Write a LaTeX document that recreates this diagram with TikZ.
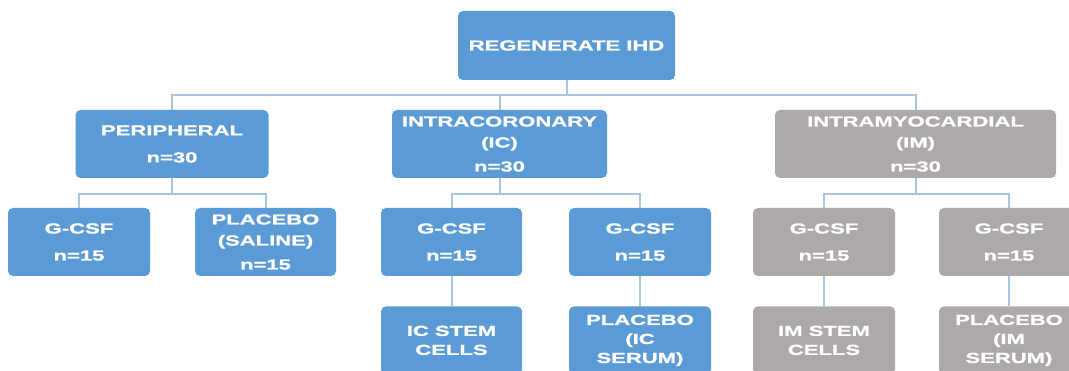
\documentclass[tikz,border=0pt]{standalone}
\usepackage{fontspec}
\newfontfamily\boxfont{Liberation Sans}[FakeStretch=1.52, FakeBold=1.2]
\usetikzlibrary{positioning}
\definecolor{ihdblue}{HTML}{5B9BD5}
\definecolor{ihdgray}{HTML}{ADA9A8}
\definecolor{ihdline}{HTML}{A9C5E2}

\begin{document}
\begin{tikzpicture}[
    x=1pt, y=-1pt,
    node distance=30pt,
    box/.style={rectangle, rounded corners=5pt, fill=#1, text=white, minimum height=68pt, inner sep=0pt, align=center, font=\boxfont\bfseries\fontsize{14.5}{21}\selectfont},
    box/.default=ihdblue,
    tight/.style={font=\boxfont\bfseries\fontsize{14.5}{19}\selectfont},
    link/.style={draw=ihdline, line width=2pt}
]
    \fill[white] (0,0) rectangle (1069,371);
    \clip (0,0) rectangle (1069,371);

    % Study and the three arms
    \node[box, minimum width=217pt, minimum height=69pt] (root) at (566.5,45.5) {REGENERATE IHD};
    \node[box, minimum width=193pt] (peri) at (172,144) {PERIPHERAL\\[6pt]n=30};
    \node[box, minimum width=215pt] (ic) at (499.5,144) {INTRACORONARY\\(IC)\\[3pt]n=30};
    \node[box=ihdgray, minimum width=281pt] (im) at (915.5,144) {INTRAMYOCARDIAL\\(IM)\\[3pt]n=30};

    % G-CSF / placebo groups
    \node[box, minimum width=142pt] (pg) at (79,242) {G-CSF\\[6pt]n=15};
    \node[box, minimum width=141pt] (pp) at (265.5,242) {PLACEBO\\(SALINE)\\[3pt]n=15};
    \node[box, minimum width=141pt] (icg) at (451.5,242) {G-CSF\\[6pt]n=15};
    \node[box, minimum width=142pt] (icp) at (640,242) {G-CSF\\[6pt]n=15};
    \node[box=ihdgray, minimum width=142pt] (img) at (824,242) {G-CSF\\[6pt]n=15};
    \node[box=ihdgray, minimum width=140pt] (imp) at (1009,242) {G-CSF\\[6pt]n=15};

    % Injected cells or serum
    \node[box, tight, minimum width=141pt, below=of icg] (ics) {IC STEM\\CELLS};
    \node[box, tight, minimum width=142pt, below=of icp] (icr) {PLACEBO\\(IC\\SERUM)};
    \node[box=ihdgray, tight, minimum width=142pt, below=of img] (ims) {IM STEM\\CELLS};
    \node[box=ihdgray, tight, minimum width=140pt, below=of imp] (imr) {PLACEBO\\(IM\\SERUM)};

    % Connectors
    \coordinate (bus) at ([yshift=15pt]peri.north);
    \draw[link] (peri.north) |- (bus) -| (im.north);
    \draw[link] (root.south) -- (root.south |- bus);
    \draw[link] (ic.north) -- (ic.north |- bus);
    \foreach \p/\a/\b in {peri/pg/pp, ic/icg/icp, im/img/imp} {
        \draw[link] (\p.south) -- ++(0,16) coordinate (\p-j);
        \draw[link] (\a.north) |- (\p-j) -| (\b.north);
    }
    \draw[link] (icg) -- (ics);
    \draw[link] (icp) -- (icr);
    \draw[link] (img) -- (ims);
    \draw[link] (imp) -- (imr);
\end{tikzpicture}
\end{document}
